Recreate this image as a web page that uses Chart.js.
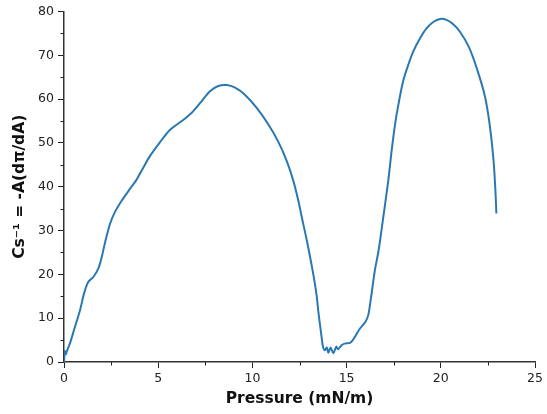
<!DOCTYPE html>
<html>
<head>
<meta charset="utf-8">
<script src="https://cdn.jsdelivr.net/npm/chart.js@4"></script>
<style>
html,body{margin:0;padding:0;background:#fff;}
#wrap{width:547px;height:414px;position:relative;}
</style>
</head>
<body>
<div id="wrap"><canvas id="c" width="547" height="414"></canvas></div>
<script>
// Surface pressure (mN/m)
const pressure = [0, 0.05, 0.1, 0.14, 0.32, 0.58, 0.85, 1.06, 1.29, 1.56, 1.82, 2.0, 2.18, 2.44, 2.7, 3.06, 3.5, 3.82, 4.2, 4.56, 5.1, 5.63, 6.25, 6.78, 7.3, 7.75, 8.19, 8.64, 9.08, 9.6, 10.23, 10.85, 11.37, 11.82, 12.17, 12.44, 12.6, 12.9, 13.2, 13.4, 13.5, 13.65, 13.75, 13.85, 13.95, 14.03, 14.15, 14.3, 14.45, 14.55, 14.75, 14.9, 15.2, 15.45, 15.7, 16.0, 16.15, 16.3, 16.5, 16.7, 16.9, 17.2, 17.39, 17.57, 17.75, 18.0, 18.28, 18.54, 18.9, 19.25, 19.6, 19.96, 20.3, 20.6, 21.0, 21.5, 21.95, 22.35, 22.6, 22.8, 22.9, 22.95];
// Compressional modulus Cs^-1
const modulus = [0, 2.5, 1.8, 2.3, 4.3, 8, 11.8, 15.6, 18.3, 19.4, 21.3, 23.9, 27.3, 31.5, 34.2, 36.8, 39.5, 41.4, 44.3, 47, 50.2, 53, 55, 56.9, 59.5, 61.8, 63, 63.2, 62.6, 61, 58, 54.2, 50.3, 45.9, 41.4, 36.8, 33.5, 27.5, 20.8, 15.5, 11.5, 6.5, 3.4, 2.7, 3.3, 2.1, 3.3, 2, 3.5, 2.9, 3.9, 4.2, 4.4, 5.8, 7.6, 9.2, 10.7, 14.8, 20.9, 25.5, 31.6, 41, 48.2, 54.2, 58.8, 64.1, 67.9, 70.9, 73.9, 76.2, 77.6, 78.3, 78.1, 77.3, 75.5, 71.8, 66.5, 60.5, 54, 46, 39, 33.9];
const xTicks = [0, 5, 10, 15, 20, 25];
const yTicks = [0, 10, 20, 30, 40, 50, 60, 70, 80];
const xMinor = [2.5, 7.5, 12.5, 17.5, 22.5];
const yMinor = [5, 15, 25, 35, 45, 55, 65, 75];

const points = pressure.map((x, i) => ({x: x, y: modulus[i]}));

const minorTicks = {
  id: 'minorTicks',
  afterDraw(chart) {
    const ctx = chart.ctx;
    const xs = chart.scales.x, ys = chart.scales.y;
    ctx.save();
    ctx.strokeStyle = '#222';
    ctx.lineWidth = 1;
    ctx.beginPath();
    xMinor.forEach(v => {
      const px = Math.round(xs.getPixelForValue(v)) + 0.5;
      ctx.moveTo(px, ys.bottom);
      ctx.lineTo(px, ys.bottom + 3.5);
    });
    yMinor.forEach(v => {
      const py = Math.round(ys.getPixelForValue(v)) + 0.5;
      ctx.moveTo(xs.left, py);
      ctx.lineTo(xs.left - 3.5, py);
    });
    ctx.stroke();
    ctx.restore();
  }
};

const tickFont = {family: 'DejaVu Sans', size: 12.5};
const titleFont = {family: 'DejaVu Sans', size: 15.5, weight: 'bold'};

new Chart(document.getElementById('c'), {
  type: 'line',
  data: {
    datasets: [{
      data: points,
      borderColor: '#2a78b2',
      borderWidth: 2,
      pointRadius: 0,
      fill: false,
      tension: 0.3
    }]
  },
  options: {
    responsive: false,
    animation: false,
    events: [],
    layout: {padding: {top: 10, right: 12, left: 0, bottom: 0}},
    plugins: {legend: {display: false}, tooltip: {enabled: false}},
    scales: {
      x: {
        type: 'linear', min: 0, max: 25,
        afterBuildTicks: s => { s.ticks = xTicks.map(v => ({value: v})); },
        afterFit: s => { s.height = 52; },
        ticks: {font: tickFont, color: '#222', padding: 3, maxRotation: 0},
        grid: {drawOnChartArea: false, tickLength: 6, color: '#222', tickWidth: 1},
        border: {color: '#333', width: 1.5},
        title: {display: true, text: 'Pressure (mN/m)', font: titleFont, color: '#111', padding: {top: 0, bottom: 6}}
      },
      y: {
        type: 'linear', min: 0, max: 80,
        afterBuildTicks: s => { s.ticks = yTicks.map(v => ({value: v})); },
        afterFit: s => { s.width = 64; },
        ticks: {font: tickFont, color: '#222', padding: 4},
        grid: {drawOnChartArea: false, tickLength: 6, color: '#222', tickWidth: 1},
        border: {color: '#333', width: 1.5},
        title: {display: true, text: 'Cs\u207B\u00B9 = -A(d\u03C0/dA)', font: titleFont, color: '#111', padding: {top: 11, bottom: 0}}
      }
    }
  },
  plugins: [minorTicks]
});
</script>
</body>
</html>
